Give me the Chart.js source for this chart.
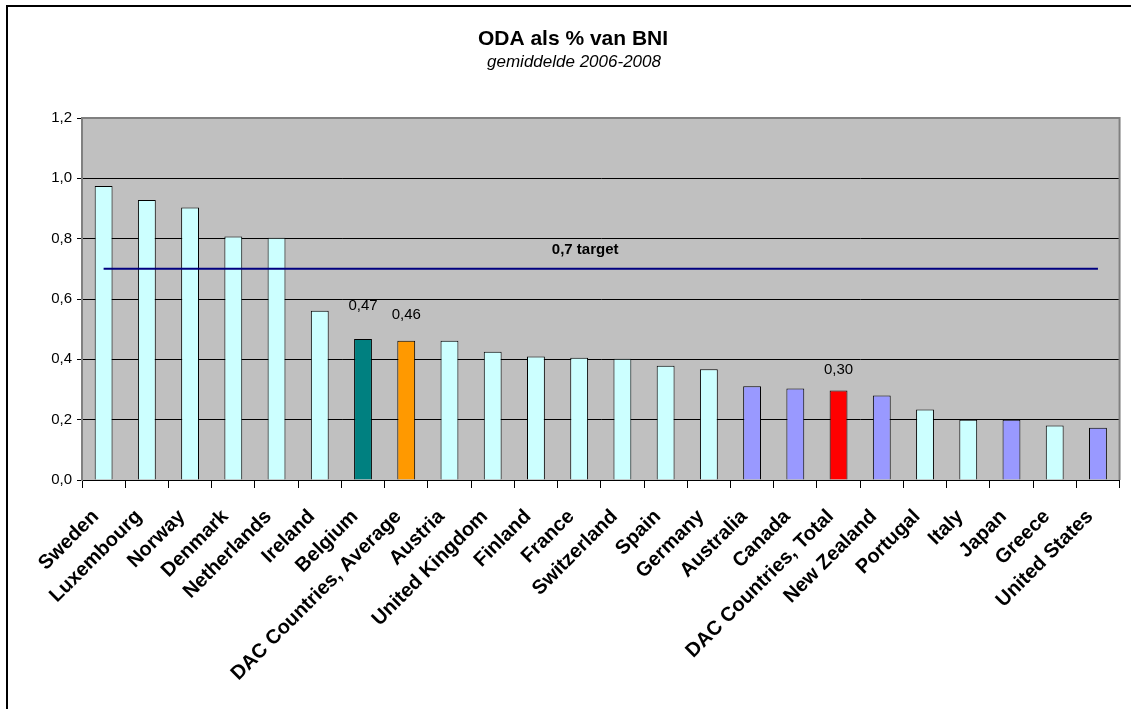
<!DOCTYPE html>
<html>
<head>
<meta charset="utf-8">
<script src="https://cdn.jsdelivr.net/npm/chart.js@4/dist/chart.umd.min.js"></script>
<style>
  html, body { margin: 0; padding: 0; background: #ffffff; }
  canvas { display: block; }
</style>
</head>
<body>
<canvas id="c" width="1132" height="709"></canvas>
<script>
// ---- Data ----
const titleText = 'ODA als % van BNI';
const subtitleText = 'gemiddelde 2006-2008';

const categories = [
  'Sweden', 'Luxembourg', 'Norway', 'Denmark', 'Netherlands', 'Ireland',
  'Belgium', 'DAC Countries, Average', 'Austria', 'United Kingdom', 'Finland',
  'France', 'Switzerland', 'Spain', 'Germany', 'Australia', 'Canada',
  'DAC Countries, Total', 'New Zealand', 'Portugal', 'Italy', 'Japan',
  'Greece', 'United States'
];

const odaValues = [
  0.975, 0.928, 0.903, 0.807, 0.803, 0.561,
  0.467, 0.462, 0.462, 0.425, 0.409,
  0.405, 0.402, 0.379, 0.367, 0.311, 0.303,
  0.297, 0.280, 0.234, 0.200, 0.200,
  0.181, 0.173
];

const groups = [
  'europe', 'europe', 'europe', 'europe', 'europe', 'europe',
  'belgium', 'average', 'europe', 'europe', 'europe',
  'europe', 'europe', 'europe', 'europe', 'other', 'other',
  'total', 'other', 'europe', 'europe', 'other',
  'europe', 'other'
];

const targetValue = 0.7;
const targetLabel = '0,7 target';
const labelledIndexes = [6, 7, 17];

const yMin = 0, yMax = 1.2, yStep = 0.2;

// ---- Styles ----
const FONT = '"Liberation Sans", Arial, Helvetica, sans-serif';
const groupColors = {
  europe: '#CCFFFF',
  other: '#9999FF',
  belgium: '#008080',
  average: '#FF9900',
  total: '#FF0000'
};
const labelLift = { 6: 33, 7: 26, 17: 21 };
const fmt = (v, d) => v.toFixed(d).replace('.', ',');

const decorPlugin = {
  id: 'decor',
  beforeDraw(chart) {
    const ctx = chart.ctx, a = chart.chartArea;
    ctx.save();
    ctx.fillStyle = '#ffffff';
    ctx.fillRect(0, 0, chart.width, chart.height);
    ctx.fillStyle = '#C0C0C0';
    ctx.fillRect(a.left, a.top, a.right - a.left, a.bottom - a.top);
    // outer frame (top and left)
    ctx.strokeStyle = '#000000';
    ctx.lineWidth = 2;
    ctx.beginPath();
    ctx.moveTo(7, 709);
    ctx.lineTo(7, 6);
    ctx.lineTo(1131, 6);
    ctx.stroke();
    ctx.restore();
  },
  afterDraw(chart) {
    const ctx = chart.ctx, a = chart.chartArea;
    const xs = chart.scales.x, ys = chart.scales.y;
    ctx.save();
    // plot border top/right
    ctx.strokeStyle = '#808080';
    ctx.lineWidth = 2;
    ctx.beginPath();
    ctx.moveTo(a.left, a.top);
    ctx.lineTo(a.right, a.top);
    ctx.lineTo(a.right, a.bottom);
    ctx.stroke();
    // titles
    ctx.fillStyle = '#000000';
    ctx.textAlign = 'center';
    ctx.textBaseline = 'middle';
    ctx.font = 'bold 21px ' + FONT;
    ctx.fillText(titleText, 573, 39);
    ctx.font = 'italic 17px ' + FONT;
    ctx.fillText(subtitleText, 574, 62);
    // target label
    ctx.font = 'bold 15px ' + FONT;
    ctx.fillText(targetLabel, xs.getPixelForValue(11) + 6, ys.getPixelForValue(targetValue) - 19);
    // value labels
    ctx.font = '15px ' + FONT;
    const meta = chart.getDatasetMeta(0);
    labelledIndexes.forEach(i => {
      const el = meta.data[i];
      ctx.fillText(fmt(odaValues[i], 2), el.x, el.y - labelLift[i]);
    });
    ctx.restore();
  }
};

new Chart(document.getElementById('c'), {
  data: {
    labels: categories,
    datasets: [
      {
        type: 'bar',
        order: 1,
        data: odaValues,
        backgroundColor: groups.map(g => groupColors[g]),
        borderColor: '#000000',
        borderWidth: 1,
        barPercentage: 0.413,
        categoryPercentage: 1.0
      },
      {
        type: 'line',
        order: 0,
        data: categories.map(() => targetValue),
        borderColor: '#000080',
        borderWidth: 2,
        pointRadius: 0,
        fill: false
      }
    ]
  },
  options: {
    responsive: false,
    devicePixelRatio: 1,
    animation: false,
    layout: { padding: { top: 118, left: 0, right: 4, bottom: 0 } },
    plugins: {
      legend: { display: false },
      tooltip: { enabled: false },
      title: { display: false }
    },
    scales: {
      x: {
        offset: true,
        grid: {
          display: true,
          offset: true,
          drawOnChartArea: false,
          drawTicks: true,
          tickLength: 8,
          tickColor: '#000000',
          tickWidth: 1
        },
        border: { display: true, color: '#000000', width: 1 },
        ticks: {
          autoSkip: false,
          minRotation: 45,
          maxRotation: 45,
          padding: 17,
          labelOffset: -8,
          color: '#000000',
          font: { family: FONT, size: 20, weight: 'bold' }
        },
        afterFit(scale) { scale.height = 229; }
      },
      y: {
        min: yMin,
        max: yMax,
        grid: {
          color: '#000000',
          lineWidth: 1,
          drawTicks: true,
          tickLength: 5,
          tickColor: '#000000'
        },
        border: { display: true, color: '#808080', width: 2 },
        ticks: {
          stepSize: yStep,
          padding: 5,
          color: '#000000',
          font: { family: FONT, size: 15 },
          callback: (v) => fmt(v, 1)
        },
        afterFit(scale) { scale.width = 82; }
      }
    }
  },
  plugins: [decorPlugin]
});
</script>
</body>
</html>
